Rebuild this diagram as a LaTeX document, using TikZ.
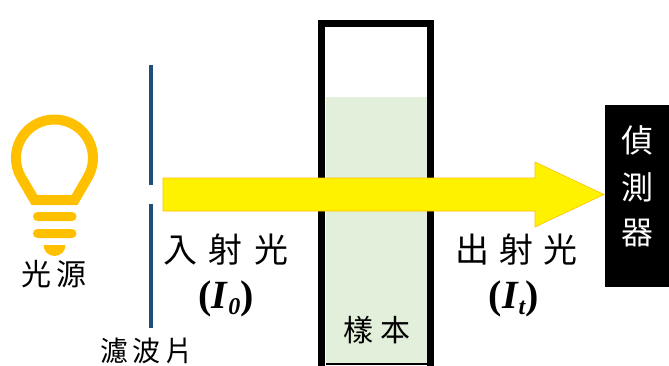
\documentclass[tikz,border=0pt]{standalone}
\usepackage{fontspec}
\setmainfont{Liberation Serif}
\newfontfamily\cjk{Noto Sans CJK TC}
\definecolor{bulbcol}{HTML}{FFC000}
\definecolor{filtercol}{HTML}{1F4E79}
\definecolor{liquidcol}{HTML}{E2EFDA}
\tikzset{
  cjklabel/.style={inner sep=0pt,text=black,font=\cjk\fontsize{#1}{#1}\selectfont},
  latinlabel/.style={inner sep=0pt,text=black,font=\bfseries\fontsize{40}{40}\selectfont},
  detlabel/.style={inner sep=0pt,text=white,font=\cjk\fontsize{32}{32}\selectfont},
  bulbpart/.style={fill=bulbcol,draw=none}
}
\begin{document}
\begin{tikzpicture}[x=1pt,y=1pt]
\useasboundingbox (0,0) rectangle (669,365);
\fill[white] (0,0) rectangle (669,365);
% bulb
\draw[bulbcol,line width=10pt,line join=miter]
  (34.4,165) -- (74.6,165) -- (87.8,187.75) arc[start angle=-30,end angle=210,radius=38.5pt] -- cycle;
\fill[bulbpart,rounded corners=4.5pt] (33,144) rectangle (76.5,153);
\fill[bulbpart,rounded corners=4.5pt] (33,127) rectangle (76.5,136);
\fill[bulbpart] (43.5,120) arc[start angle=180,end angle=360,radius=11pt] -- cycle;
\node[cjklabel=30] (lightsrc) at (54,91) {光\hspace{5pt}源};
% filter
\fill[filtercol] (148.5,180) rectangle (153,300);
\fill[filtercol] (148.5,37) rectangle (153,161);
\node[cjklabel=28] (filterlabel) at (147,14.5) {濾\hspace{5pt}波\hspace{5pt}片};
% cuvette
\fill[liquidcol] (326,0) rectangle (428,268);
\draw[black,line width=7pt,line join=miter] (321.5,-10) -- (321.5,341.5) -- (430.5,341.5) -- (430.5,-10);
\draw[black,line width=2pt] (326,1) -- (428,1);
\node[cjklabel=30] (sample) at (377,35) {樣\hspace{8pt}本};
% arrow
\draw[fill=yellow,draw=bulbcol,line width=0.6pt]
  (163,187) -- (535,187) -- (535,203) -- (604,170.5) -- (535,138) -- (535,154) -- (163,154) -- cycle;
% labels
\node[cjklabel=34] (incident) at (226,115) {入\hspace{12pt}射\hspace{12pt}光};
\node[latinlabel] (izero) at (226,66) {(\textit{I}\raisebox{-6pt}{\fontsize{24}{24}\selectfont\textit{0}})};
\node[cjklabel=34] (outgoing) at (516.5,115) {出\hspace{10pt}射\hspace{10pt}光};
\node[latinlabel] (itrans) at (514,66) {(\textit{I}\raisebox{-6pt}{\fontsize{24}{24}\selectfont\textit{t}})};
% detector
\fill[black] (605,78) rectangle (669,260);
\node[detlabel] (det1) at (637,225) {偵};
\node[detlabel] (det2) at (637,178) {測};
\node[detlabel] (det3) at (637,132) {器};
\end{tikzpicture}
\end{document}
